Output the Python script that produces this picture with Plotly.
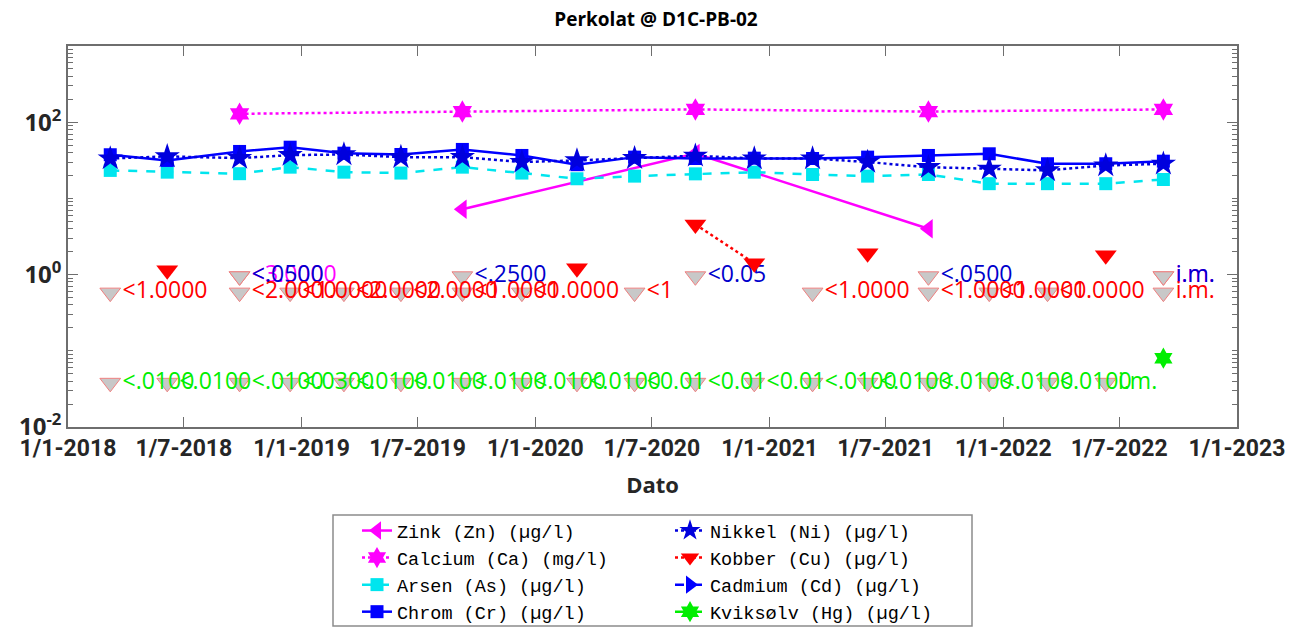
import plotly.graph_objects as go

# ---------------- data ----------------
dates = ["2018-03-08", "2018-06-05", "2018-09-26", "2018-12-14", "2019-03-08",
         "2019-06-05", "2019-09-09", "2019-12-11", "2020-03-06", "2020-06-04",
         "2020-09-07", "2020-12-08", "2021-03-09", "2021-06-03", "2021-09-06",
         "2021-12-10", "2022-03-11", "2022-06-10", "2022-09-08"]
dates_annual = ["2018-09-26", "2019-09-09", "2020-09-07", "2021-09-06", "2022-09-08"]

zink = [None, 7.2, 38.9, 4.0, None]
calcium = [129, 138, 147, 138, 147]
arsen = [23.3, 22.1, 21.1, 25.7, 22.1, 21.5, 25.7, 21.5, 18.1, 19.6,
         21.0, 22.1, 20.6, 19.6, 20.6, 15.6, 15.6, 15.6, 17.7]
chrom = [37.4, 31.5, 41.3, 47.0, 39.2, 37.7, 43.9, 36.6, 27.7, 34.8,
         33.4, 33.7, 33.4, 34.8, 36.6, 38.5, 28.5, 28.5, 30.8]
nikkel = [33.4, 35.6, 33.8, 37.0, 37.7, 34.8, 34.8, 30.0, 31.5, 33.7,
          36.3, 33.4, 33.4, 30.0, 25.7, 24.5, 23.3, 27.0, 28.5]
kobber = [None, 1.14, None, None, None, None, None, None, 1.21, None,
          4.56, 1.41, None, 1.9, None, None, None, 1.79, None]
cadmium = [None, None, None, None, None]
kviksolv = [None] * 18 + [0.08]

# below-detection-limit labels (None = measured value shown above)
zink_lim = ["<3.0000", None, None, None, "i.m."]
cadmium_lim = ["<.0500", "<.2500", "<0.05", "<.0500", "i.m."]
kobber_lim = ["<1.0000", None, "<2.0000", "<1.0000", "<2.0000", "<2.0000", "<1.0000",
              "<1.0000", None, "<1", None, None, "<1.0000", None, "<1.0000",
              "<1.0000", "<1.0000", None, "i.m."]
kviksolv_lim = ["<.0100", "<.0100", "<.0100", "<.0300", "<.0100", "<.0100", "<.0100",
                "<.0100", "<.0100", "<0.01", "<0.01", "<0.01", "<.0100", "<.0100",
                "<.0100", "<.0100", "<.0100", "i.m.", None]

x_ticks = ["2018-01-01", "2018-07-01", "2019-01-01", "2019-07-01", "2020-01-01",
           "2020-07-01", "2021-01-01", "2021-07-01", "2022-01-01", "2022-07-01",
           "2023-01-01"]
x_ticktext = ["1/1-2018", "1/7-2018", "1/1-2019", "1/7-2019", "1/1-2020", "1/7-2020",
              "1/1-2021", "1/7-2021", "1/1-2022", "1/7-2022", "1/1-2023"]
y_ticks = [0.01, 1, 100]
y_ticktext = ["10<sup>-2</sup>", "10<sup>0</sup>", "10<sup>2</sup>"]

# display level (axis position) for the "below limit" markers per element
LEVEL = {"zn": 0.95, "cd": 0.95, "cu": 0.58, "hg": 0.038}

MAG = "#FF00FF"
CYAN = "#00E5EE"
BLUE = "#0000FF"
RED = "#FF0000"
GREEN = "#00EE00"

fig = go.Figure()

LABEL_FONT = "Open Sans, DejaVu Sans, sans-serif"


def limit_trace(xs, labels, level, color):
    xx = [x for x, t in zip(xs, labels) if t is not None]
    tt = [t for t in labels if t is not None]
    return go.Scatter(
        x=xx, y=[level] * len(xx), text=tt, mode="markers+text",
        textposition="middle right",
        textfont=dict(family=LABEL_FONT, size=23, color=color),
        marker=dict(symbol="triangle-down", size=18, color="#C8C8C8",
                    line=dict(color="#F08080", width=1)),
        showlegend=False, hoverinfo="skip", cliponaxis=False)


fig.add_trace(limit_trace(dates_annual, zink_lim, LEVEL["zn"], MAG))
fig.add_trace(limit_trace(dates_annual, cadmium_lim, LEVEL["cd"], "#0000CC"))
fig.add_trace(limit_trace(dates, kobber_lim, LEVEL["cu"], RED))
fig.add_trace(limit_trace(dates, kviksolv_lim, LEVEL["hg"], GREEN))

# ---------- measured series ----------
fig.add_trace(go.Scatter(x=dates_annual, y=zink, name="Zink (Zn) (\u00b5g/l)",
                         mode="lines+markers", legend="legend",
                         line=dict(color=MAG, width=2.5, dash="solid"),
                         marker=dict(symbol="triangle-left", size=17, color=MAG)))
fig.add_trace(go.Scatter(x=dates_annual, y=calcium, name="Calcium (Ca) (mg/l)",
                         mode="lines+markers", legend="legend",
                         line=dict(color=MAG, width=2.5, dash="dot"),
                         marker=dict(symbol="hexagram", size=17, color=MAG)))
fig.add_trace(go.Scatter(x=dates, y=arsen, name="Arsen (As) (\u00b5g/l)",
                         mode="lines+markers", legend="legend",
                         line=dict(color=CYAN, width=2.5, dash="dash"),
                         marker=dict(symbol="square", size=13, color=CYAN)))
fig.add_trace(go.Scatter(x=dates, y=chrom, name="Chrom (Cr) (\u00b5g/l)",
                         mode="lines+markers", legend="legend",
                         line=dict(color=BLUE, width=2.5, dash="solid"),
                         marker=dict(symbol="square", size=13, color=BLUE)))
fig.add_trace(go.Scatter(x=dates, y=nikkel, name="Nikkel (Ni) (\u00b5g/l)",
                         mode="lines+markers", legend="legend2",
                         line=dict(color="#0000DD", width=2.5, dash="dot"),
                         marker=dict(symbol="star", size=19, color="#0000DD")))
fig.add_trace(go.Scatter(x=dates, y=kobber, name="Kobber (Cu) (\u00b5g/l)",
                         mode="lines+markers", legend="legend2",
                         line=dict(color=RED, width=2.5, dash="dot"),
                         marker=dict(symbol="triangle-down", size=19, color=RED)))
fig.add_trace(go.Scatter(x=dates_annual, y=cadmium, name="Cadmium (Cd) (\u00b5g/l)",
                         mode="lines+markers", legend="legend2",
                         line=dict(color=BLUE, width=2.5, dash="dash"),
                         marker=dict(symbol="triangle-right", size=17, color=BLUE)))
fig.add_trace(go.Scatter(x=dates, y=kviksolv, name="Kviks\u00f8lv (Hg) (\u00b5g/l)",
                         mode="lines+markers", legend="legend2",
                         line=dict(color=GREEN, width=2.5, dash="dash"),
                         marker=dict(symbol="hexagram", size=16, color=GREEN)))

# ---------- layout ----------
L, R, T, B = 68, 69, 46, 201
W, H = 1306, 628
pw, ph = W - L - R, H - T - B


def px_x(p):
    return (p - L) / pw


def px_y(p):
    return (H - B - p) / ph


def cy(p):
    return 1 - p / H


AX_COLOR = "#6E6E6E"
LEG_FONT = dict(family="Liberation Mono, DejaVu Sans Mono, monospace",
                size=18.5, color="#000000")

minor_vals = []
for e in range(-2, 3):
    for m in range(2, 10):
        minor_vals.append(m * 10 ** e)
minor_vals += [0.1, 10, 1000]

fig.update_layout(
    width=W, height=H,
    margin=dict(l=L, r=R, t=T, b=B, autoexpand=False),
    paper_bgcolor="white", plot_bgcolor="white",
    title=dict(text="<b>Perkolat @ D1C-PB-02</b>", x=px_x(656), xref="paper",
               xanchor="center", y=cy(19), yref="container", yanchor="middle",
               font=dict(family="Open Sans, sans-serif", size=19, color="#000000")),
    xaxis=dict(type="date", range=["2018-01-01", "2023-01-01"],
               tickmode="array", tickvals=x_ticks, ticktext=x_ticktext,
               ticks="inside", ticklen=10, tickwidth=1, tickcolor=AX_COLOR,
               showline=True, linecolor=AX_COLOR, linewidth=1.5, mirror="ticks",
               showgrid=False, zeroline=False, tickangle=0,
               tickfont=dict(family="Roboto, Arial, sans-serif", size=23,
                             color="#262626", weight="bold"),
               title=dict(text="<b>Dato</b>", standoff=16,
                          font=dict(family="Open Sans, sans-serif", size=22, color="#262626"))),
    yaxis=dict(type="log", range=[-2, 3],
               tickmode="array", tickvals=y_ticks, ticktext=y_ticktext,
               ticks="inside", ticklen=10, tickwidth=1, tickcolor=AX_COLOR,
               minor=dict(tickmode="array", tickvals=minor_vals, ticks="inside",
                          ticklen=5, tickcolor=AX_COLOR, showgrid=False),
               showline=True, linecolor=AX_COLOR, linewidth=1.5, mirror="ticks",
               showgrid=False, zeroline=False,
               tickfont=dict(family="Open Sans, sans-serif", size=24, color="#262626",
                             weight="bold")),
    legend=dict(x=px_x(357), xref="paper", y=cy(512), yref="container",
                xanchor="left", yanchor="top",
                bgcolor="rgba(0,0,0,0)", borderwidth=0, tracegroupgap=0,
                font=LEG_FONT),
    legend2=dict(x=px_x(670), xref="paper", y=cy(512), yref="container",
                 xanchor="left", yanchor="top",
                 bgcolor="rgba(0,0,0,0)", borderwidth=0, tracegroupgap=0,
                 font=LEG_FONT),
    shapes=[dict(type="rect", xref="paper", yref="paper",
                 x0=px_x(333), x1=px_x(972), y0=px_y(626), y1=px_y(515),
                 line=dict(color="#8C8C8C", width=1.5), fillcolor="rgba(0,0,0,0)",
                 layer="below")],
)

fig.write_html("out.html")
